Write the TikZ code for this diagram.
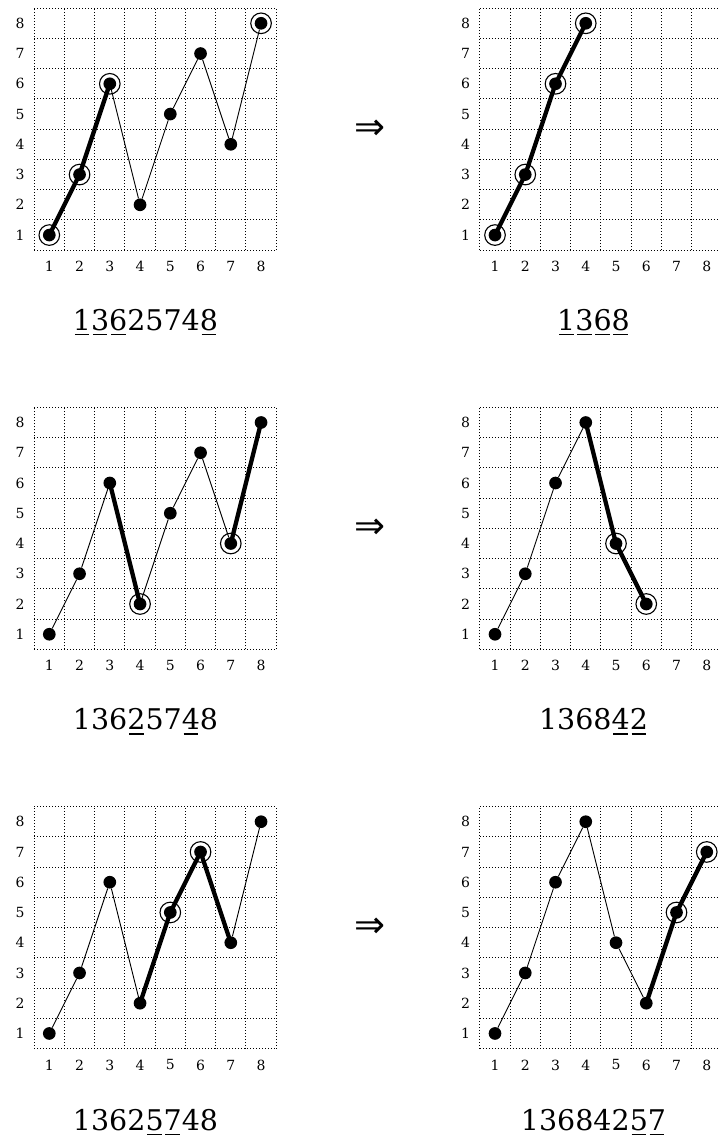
\documentclass[tikz,border=0pt]{standalone}
\usepackage{fontspec}
\setmainfont{DejaVu Serif}
\newfontfamily\arrowfont{DejaVu Sans}
\newsavebox\udbox
\newcommand\ud[1]{\sbox\udbox{#1}\rlap{\kern1.8pt\vrule height -3.8pt depth 5.3pt width \dimexpr\wd\udbox-3.6pt\relax}\usebox\udbox}
\newcommand\panelbase[1]{%
  \foreach \k in {0.5,1.5,...,8.5}{\draw[gridline] (\k,0.5)--(\k,8.5); \draw[gridline] (0.5,\k)--(8.5,\k);}
  \foreach \k in {1,...,8}{\node[axlabel] (#1x\k) at (\k,-0.04) {\k}; \node[axlabel] (#1y\k) at (0.03,\k) {\k};}
}
\newcommand\points[2]{\foreach \v [count=\i] in {#2} {\node[dot] (#1p\i) at (\i,\v) {};}}
\tikzset{
  dot/.style={circle,fill=black,inner sep=0pt,minimum size=12.7pt},
  ring/.style={circle,draw=black,line width=1.1pt,inner sep=0pt,minimum size=20.6pt},
  thinline/.style={line width=0.9pt},
  thickline/.style={line width=4.3pt,line join=round,line cap=round},
  gridline/.style={line width=0.9pt,dash pattern=on 0.9pt off 2.1pt},
  axlabel/.style={font=\fontsize{14}{16}\selectfont,inner sep=0pt},
  seqlabel/.style={font=\fontsize{28.5}{34}\selectfont,inner sep=0pt,anchor=base},
  implies/.style={font=\arrowfont\fontsize{37}{40}\selectfont,inner sep=0pt},
}
\begin{document}
\begin{tikzpicture}[x=1pt,y=-1pt]
\useasboundingbox (0,0) rectangle (717,1137);
% ---------- row 1 ----------
\begin{scope}[shift={(19.05,265.3)},x=30.25pt,y=30.25pt]
  \panelbase{A}
  \points{A}{1,3,6,2,5,7,4,8}
  \foreach \a/\b in {3/4,4/5,5/6,6/7,7/8} \draw[thinline] (Ap\a)--(Ap\b);
  \draw[thickline] (Ap1.center)--(Ap2.center)--(Ap3.center);
  \foreach \i in {1,2,3,8} \node[ring] (Ar\i) at (Ap\i) {};
\end{scope}
\begin{scope}[shift={(464.75,265.3)},x=30.25pt,y=30.25pt]
  \panelbase{B}
  \points{B}{1,3,6,8}
  \draw[thickline] (Bp1.center)--(Bp2.center)--(Bp3.center)--(Bp4.center);
  \foreach \i in {1,2,3,4} \node[ring] (Br\i) at (Bp\i) {};
\end{scope}
\node[implies] (arr1) at (370,130) {⇒};
\node[seqlabel] (sA) at (145.5,330) {\ud{1}\ud{3}\ud{6}2574\ud{8}};
\node[seqlabel] (sB) at (593.5,330) {\ud{1}\ud{3}\ud{6}\ud{8}};
% ---------- row 2 ----------
\begin{scope}[shift={(19.05,664.5)},x=30.25pt,y=30.25pt]
  \panelbase{C}
  \points{C}{1,3,6,2,5,7,4,8}
  \foreach \a/\b in {1/2,2/3,4/5,5/6,6/7} \draw[thinline] (Cp\a)--(Cp\b);
  \draw[thickline] (Cp3.center)--(Cp4.center);
  \draw[thickline] (Cp7.center)--(Cp8.center);
  \foreach \i in {4,7} \node[ring] (Cr\i) at (Cp\i) {};
\end{scope}
\begin{scope}[shift={(464.75,664.5)},x=30.25pt,y=30.25pt]
  \panelbase{D}
  \points{D}{1,3,6,8,4,2}
  \foreach \a/\b in {1/2,2/3,3/4} \draw[thinline] (Dp\a)--(Dp\b);
  \draw[thickline] (Dp4.center)--(Dp5.center)--(Dp6.center);
  \foreach \i in {5,6} \node[ring] (Dr\i) at (Dp\i) {};
\end{scope}
\node[implies] (arr2) at (370,529) {⇒};
\node[seqlabel] (sC) at (145.5,729.5) {136\ud{2}57\ud{4}8};
\node[seqlabel] (sD) at (593.5,729.5) {1368\ud{4}\ud{2}};
% ---------- row 3 ----------
\begin{scope}[shift={(19.05,1063.7)},x=30.25pt,y=30.25pt]
  \panelbase{E}
  \points{E}{1,3,6,2,5,7,4,8}
  \foreach \a/\b in {1/2,2/3,3/4,7/8} \draw[thinline] (Ep\a)--(Ep\b);
  \draw[thickline] (Ep4.center)--(Ep5.center)--(Ep6.center)--(Ep7.center);
  \foreach \i in {5,6} \node[ring] (Er\i) at (Ep\i) {};
\end{scope}
\begin{scope}[shift={(464.75,1063.7)},x=30.25pt,y=30.25pt]
  \panelbase{F}
  \points{F}{1,3,6,8,4,2,5,7}
  \foreach \a/\b in {1/2,2/3,3/4,4/5,5/6} \draw[thinline] (Fp\a)--(Fp\b);
  \draw[thickline] (Fp6.center)--(Fp7.center)--(Fp8.center);
  \foreach \i in {7,8} \node[ring] (Fr\i) at (Fp\i) {};
\end{scope}
\node[implies] (arr3) at (370,928) {⇒};
\node[seqlabel] (sE) at (145.5,1130) {1362\ud{5}\ud{7}48};
\node[seqlabel] (sF) at (593.5,1130) {136842\ud{5}\ud{7}};
\end{tikzpicture}
\end{document}
